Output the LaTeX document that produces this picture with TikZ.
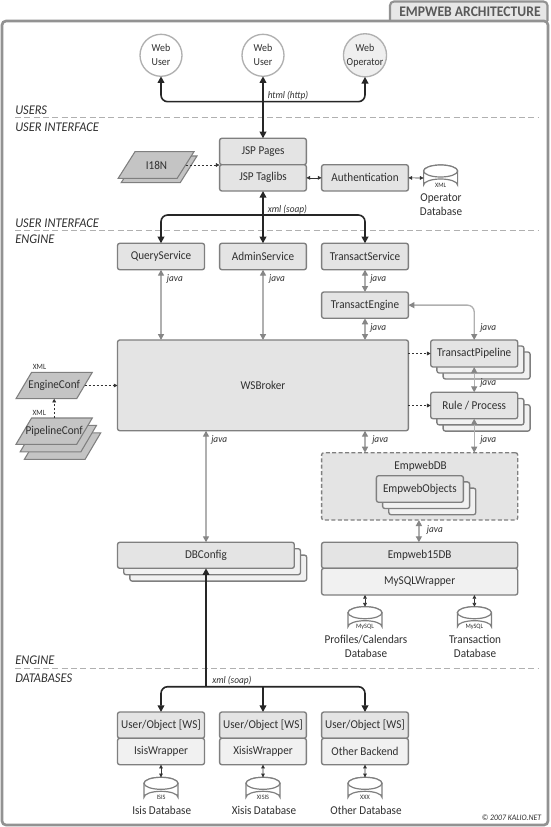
\documentclass[tikz,border=0pt]{standalone}
\usepackage{fontspec}
\setmainfont[FakeStretch=0.93]{Carlito}
\usetikzlibrary{arrows.meta}
\definecolor{edge}{HTML}{7F7F7F}
\definecolor{boxf}{HTML}{E4E4E4}
\definecolor{lightf}{HTML}{F1F1F1}
\definecolor{paraf}{HTML}{C4C4C4}
\definecolor{ink}{HTML}{303030}
\definecolor{javac}{HTML}{B0B0B0}
\definecolor{javatip}{HTML}{868686}
\tikzset{
 boxn/.style={draw=edge,fill=boxf,line width=1pt,rounded corners=1.7pt,inner sep=0pt,text=ink,font=\fontsize{9}{10}\selectfont,outer sep=0pt},
 lightn/.style={fill=lightf},
 phantomn/.style={inner sep=0pt,outer sep=0pt,text=ink,font=\fontsize{9}{10}\selectfont},
 labeln/.style={inner sep=0pt,text=ink,font=\fontsize{9}{10}\selectfont,align=center},
 tiny/.style={inner sep=0pt,text=ink,font=\fontsize{5}{6}\selectfont},
 jl/.style={inner sep=0pt,anchor=west,text=ink,font=\fontsize{7.5}{8}\itshape\selectfont},
 sect/.style={inner sep=0pt,anchor=west,text=ink,font=\fontsize{10}{10}\itshape\selectfont},
 sectline/.style={draw=javac,line width=0.8pt,dash pattern=on 4.5pt off 2.5pt},
 usern/.style={circle,draw=javac,line width=1pt,minimum size=31.5pt,inner sep=0pt,align=center,text=ink,font=\fontsize{8}{10.5}\selectfont,outer sep=0pt},
 bus/.style={draw=black!85,line width=1.2pt,rounded corners=5pt},
 bustip/.style={{Triangle[length=5pt,width=5pt]}-{Triangle[length=5pt,width=5pt]}},
 busend/.style={-{Triangle[length=5pt,width=5pt]}},
 javaa/.style={draw=javac,line width=1pt,{Triangle[length=4.5pt,width=4.5pt,color=javatip]}-{Triangle[length=4.5pt,width=4.5pt,color=javatip]}},
 thina/.style={draw=black!80,line width=0.5pt,{Triangle[length=2.8pt,width=2.8pt]}-{Triangle[length=2.8pt,width=2.8pt]}},
 dota/.style={draw=black!80,line width=0.6pt,dash pattern=on 1.5pt off 1.5pt,-{Triangle[length=2.8pt,width=2.8pt]}},
 paras/.style={draw=edge,fill=paraf,line width=0.8pt},
 cyls/.style={draw=edge,fill=white,line width=0.9pt},
}
% [style]{name}{x1}{y1}{x2}{y2}{text}
\newcommand\bx[7][]{\node[boxn,#1,minimum width={(#5-#3)*0.75pt},minimum height={(#6-#4)*0.75pt},anchor=north west] (#2) at (#3,#4) {#7};}
% stack of three: {name}{x1}{y1}{x2}{y2}{dx}{dy}{text}
\newcommand\stk[8]{%
 \pgfmathsetmacro\aa{#2+2*#6}\pgfmathsetmacro\ab{#3+2*#7}\pgfmathsetmacro\ac{#4+2*#6}\pgfmathsetmacro\ad{#5+2*#7}%
 \bx[lightn]{#1-c}{\aa}{\ab}{\ac}{\ad}{}%
 \pgfmathsetmacro\aa{#2+#6}\pgfmathsetmacro\ab{#3+#7}\pgfmathsetmacro\ac{#4+#6}\pgfmathsetmacro\ad{#5+#7}%
 \bx[lightn]{#1-b}{\aa}{\ab}{\ac}{\ad}{}%
 \bx{#1}{#2}{#3}{#4}{#5}{#8}}
% parallelogram: bottom-left x, bottom y, top-left x, top y, width
\newcommand\para[5]{\path[paras] (#1,#2) -- (#3,#4) -- ++(#5,0) -- (#1+#5,#2) -- cycle;}
% cylinder: {name}{cx}{top y}{small text}
\newcommand\cyl[4]{%
 \path[cyls] (#2-17,#3+6) -- (#2-17,#3+20) arc[start angle=180,end angle=360,x radius=17,y radius=6] -- (#2+17,#3+6) arc[start angle=0,end angle=-180,x radius=17,y radius=6] -- cycle;
 \path[cyls] (#2,#3+6) ellipse[x radius=17,y radius=6];
 \node[inner sep=0pt,outer sep=0pt,minimum width=25.5pt,minimum height=19.5pt,anchor=north] (#1) at (#2,#3) {};
 \node[tiny] (#1-t) at (#2,#3+20) {#4};}
\begin{document}
\begin{tikzpicture}[x=0.75pt,y=-0.75pt]
\useasboundingbox (0,0) rectangle (550,827);
\fill[white] (0,0) rectangle (550,827);
% frame and title tab
\path[draw=edge!85,fill=boxf!90!white,line width=1.6pt,rounded corners=3pt] (390,21) -- (390,1.5) -- (547.5,1.5) -- (547.5,21);
\path[draw=edge!85,line width=2pt,rounded corners=3pt] (548,21) -- (2,21) -- (2,825) -- (548,825) -- cycle;
\node[inner sep=0pt,text=black!65,font=\fontsize{11}{12}\bfseries\selectfont] (title) at (470,11.5) {EMPWEB ARCHITECTURE};
\node[inner sep=0pt,anchor=east,text=ink,font=\fontsize{6.3}{7}\itshape\selectfont] (copy) at (541.5,817.7) {© 2007 KALIO.NET};
% section lines
\coordinate (s1a) at (15,117.3); \coordinate (s1b) at (538,117.3);
\coordinate (s2a) at (15,230.3); \coordinate (s2b) at (538,230.3);
\coordinate (s3a) at (15,668.3); \coordinate (s3b) at (538,668.3);
\draw[sectline] (s1a) -- (s1b);
\draw[sectline] (s2a) -- (s2b);
\draw[sectline] (s3a) -- (s3b);
\node[sect] (l1) at (15,110) {USERS};
\node[sect] (l2) at (15,127) {USER INTERFACE};
\node[sect] (l3) at (15,223) {USER INTERFACE};
\node[sect] (l4) at (15,239.7) {ENGINE};
\node[sect] (l5) at (15,660.3) {ENGINE};
\node[sect] (l6) at (15,678) {DATABASES};
% users
\node[usern,fill=white] (wu1) at (161,55.3) {Web\\User};
\node[usern,fill=white] (wu2) at (263,55.3) {Web\\User};
\node[usern,fill=boxf!60!white] (wo) at (365,55.3) {Web\\Operator};
% UI
\bx{jsp}{219.6}{138.3}{306.4}{164.7}{JSP Pages}
\bx{tag}{219.6}{164.7}{306.4}{191}{JSP Taglibs}
\bx{auth}{321.6}{164.7}{408.4}{191}{Authentication}
\para{121.2}{182.7}{138}{156}{59}
\para{118.2}{178.3}{135}{151.7}{59}
\node[phantomn,minimum width=44pt,minimum height=19.5pt] (i18n) at (156.5,165) {I18N};
\cyl{opdb}{440.6}{165}{XML}
\node[labeln] (opl) at (441,205) {Operator\\[0.4pt]Database};
% services
\bx{qs}{117.5}{243.3}{204.5}{269.7}{QueryService}
\bx{as}{219.6}{243.3}{306.4}{269.7}{AdminService}
\bx{ts}{321.6}{243.3}{408.4}{269.7}{TransactService}
\bx{te}{321.6}{292}{408.4}{318.3}{TransactEngine}
\bx{ws}{117.5}{340}{408.4}{430.7}{WSBroker}
\stk{tp}{430.7}{340}{517.7}{367}{6.2}{6}{TransactPipeline}
\stk{rp}{430.7}{392.3}{517.7}{418.7}{6.2}{6.2}{Rule / Process}
% config
\para{16}{398.7}{31.6}{372.3}{60.7}
\node[phantomn,minimum width=45.5pt,minimum height=19.8pt] (ec) at (54.2,385.5) {EngineConf};
\node[tiny,font=\fontsize{6}{7}\selectfont] (ecx) at (39.5,367.3) {XML};
\para{24.4}{459.3}{40}{432.9}{60.7}
\para{20.2}{451.8}{35.8}{425.4}{60.7}
\para{16}{444.3}{31.6}{418}{60.7}
\node[phantomn,minimum width=45.5pt,minimum height=19.8pt] (pc) at (54.2,431.2) {PipelineConf};
\node[tiny,font=\fontsize{6}{7}\selectfont] (pcx) at (39.3,413) {XML};
% EmpwebDB
\bx[dash pattern=on 3pt off 1.8pt]{edb}{321.6}{452.7}{517.7}{520}{}
\node[labeln] (edbl) at (420.6,466.3) {EmpwebDB};
\stk{eo}{376.4}{475.7}{463.4}{502.3}{6.2}{6.2}{EmpwebObjects}
\stk{dbc}{117.5}{542.3}{294.3}{568.3}{6.2}{6.4}{DBConfig}
\bx{e15}{321.6}{542.3}{517.7}{568.3}{Empweb15DB}
\bx[lightn]{my}{321.6}{568.3}{517.7}{595}{MySQLWrapper}
\cyl{pdb}{365}{606.7}{MySQL}
\cyl{tdb}{474.4}{606.7}{MySQL}
\node[labeln] (pl) at (366,646.2) {Profiles/Calendars\\[0.4pt]Database};
\node[labeln] (tl) at (475,646.2) {Transaction\\[0.4pt]Database};
% backends
\bx{u1}{117.5}{712}{204.5}{738.3}{User/Object [WS]}
\bx[lightn]{w1}{117.5}{738.3}{204.5}{764.7}{IsisWrapper}
\bx{u2}{219.6}{712}{306.4}{738.3}{User/Object [WS]}
\bx[lightn]{w2}{219.6}{738.3}{306.4}{764.7}{XisisWrapper}
\bx{u3}{321.6}{712}{408.4}{738.3}{User/Object [WS]}
\bx[lightn]{w3}{321.6}{738.3}{408.4}{764.7}{Other Backend}
\cyl{d1}{161}{777.3}{ISIS}
\cyl{d2}{263}{777.3}{XISIS}
\cyl{d3}{365}{777.3}{XXX}
\node[labeln] (dl1) at (161.7,810.3) {Isis Database};
\node[labeln] (dl2) at (264,810.3) {Xisis Database};
\node[labeln] (dl3) at (366,810.3) {Other Database};
% black buses
\coordinate (b1) at (263,101.7);
\coordinate (b2) at (263,215);
\coordinate (b3) at (206,686.7);
\draw[bus,bustip] (wu1.south) -- (wu1.south |- b1) -- (wo.south |- b1) -- (wo.south);
\draw[bus,bustip] (wu2.south) -- (jsp.north);
\draw[bus,bustip] (qs.north) -- (qs.north |- b2) -- (ts.north |- b2) -- (ts.north);
\draw[bus,bustip] (tag.south) -- (as.north);
\draw[bus,bustip] (u1.north) -- (u1.north |- b3) -- (u3.north |- b3) -- (u3.north);
\draw[bus,busend] (b3) -- (dbc.south -| b3);
\draw[bus,busend] (u2.north |- b3) -- (u2.north);
\node[jl] (j1) at (267.5,95.7) {html (http)};
\node[jl] (j2) at (267.5,209.3) {xml (soap)};
\node[jl] (j3) at (212,680.3) {xml (soap)};
% java arrows
\draw[javaa] (qs.south) -- (qs.south |- ws.north);
\draw[javaa] (as.south) -- (as.south |- ws.north);
\draw[javaa] (ts.south) -- (te.north);
\draw[javaa] (te.south) -- (te.south |- ws.north);
\draw[javaa,rounded corners=5pt] (te.east) -- (te.east -| tp.north) -- (tp.north);
\draw[javaa] (tp.south) -- (rp.north);
\draw[javaa] (rp.south) -- (rp.south |- edb.north);
\draw[javaa] (ws.south -| b3) -- (b3 |- dbc.north);
\draw[javaa] (te.south |- ws.south) -- (te.south |- edb.north);
\draw[javaa] (edb.south -| eo.north) ++(-1,0) coordinate (ea) -- (ea |- e15.north);
\node[jl] (ja) at (166.7,279.3) {java};
\node[jl] (jb) at (268.8,279.3) {java};
\node[jl] (jc) at (370,279.3) {java};
\node[jl] (jd) at (370,328) {java};
\node[jl] (je) at (480,328) {java};
\node[jl] (jf) at (480,383) {java};
\node[jl] (jg) at (480,440.3) {java};
\node[jl] (jh) at (372,440.3) {java};
\node[jl] (ji) at (211,440.3) {java};
\node[jl] (jj) at (426.6,529.7) {java};
% thin black arrows
\draw[thina] (tag.east) -- (auth.west);
\draw[thina] (auth.east) -- (opdb.west);
\draw[thina] (my.south -| pdb.north) -- (pdb.north);
\draw[thina] (my.south -| tdb.north) -- (tdb.north);
\draw[thina] (w1.south) -- (d1.north);
\draw[thina] (w2.south) -- (d2.north);
\draw[thina] (w3.south) -- (d3.north);
% dotted arrows
\draw[dota] (i18n.east) -- (i18n.east -| tag.west);
\draw[dota] (ec.east) -- (ec.east -| ws.west);
\draw[dota] (pc.north) -- (ec.south);
\draw[dota] (ws.east |- tp.west) -- (tp.west);
\draw[dota] (ws.east |- rp.west) -- (rp.west);
\end{tikzpicture}
\end{document}
